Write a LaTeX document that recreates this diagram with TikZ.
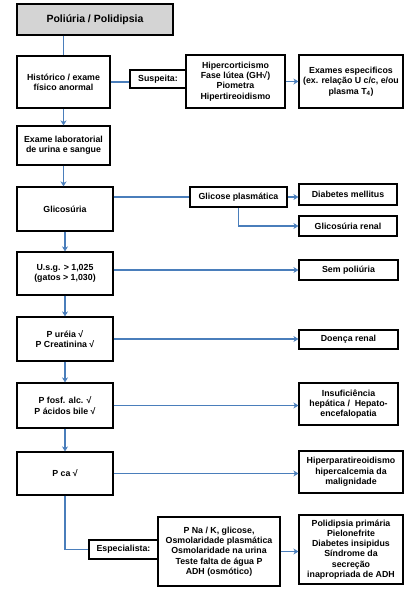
\documentclass[tikz,border=0pt]{standalone}
\usepackage{fontspec}
\setmainfont{Liberation Sans}
\usetikzlibrary{arrows.meta,calc}
\definecolor{arrblue}{RGB}{74,126,187}
\definecolor{topgray}{RGB}{212,212,212}
\begin{document}
\begin{tikzpicture}[x=1bp,y=-1bp,
  box/.style={draw=black,line width=1.2bp,align=center,inner sep=0pt,
    font=\fontsize{8.8bp}{10.3bp}\selectfont\bfseries},
  conn/.style={draw=arrblue,line width=1.3bp},
  arr/.style={conn,-{Stealth[length=5bp,width=6bp,inset=1.5bp]}}]
\useasboundingbox (0,0) rectangle (408,594);
% nodes
\node[box,fill=topgray,minimum width=156bp,minimum height=31bp,font=\fontsize{10.5bp}{12bp}\selectfont\bfseries] (top) at (95,19.5) {Poliúria / Polidipsia};
\node[box,minimum width=93bp,minimum height=52bp] (hist) at (63.5,82) {Histórico / exame\\físico anormal};
\node[box,minimum width=56bp,minimum height=18bp] (susp) at (158,79) {Suspeita:};
\node[box,minimum width=99bp,minimum height=53bp] (hiper) at (235.5,81.5) {Hipercorticismo\\Fase lútea (GH√)\\Piometra\\Hipertireoidismo};
\node[box,minimum width=104bp,minimum height=53bp] (exames) at (351,81.5) {Exames especificos\\(ex. relação U c/c, e/ou\\plasma T\textsubscript{4})};
\node[box,minimum width=93bp,minimum height=39bp] (examelab) at (63.5,145.5) {Exame laboratorial\\de urina e sangue};
\node[box,minimum width=96bp,minimum height=44bp] (glic) at (65,209) {Glicosúria};
\node[box,minimum width=97bp,minimum height=20bp] (glicpl) at (238.5,197) {Glicose plasmática};
\node[box,minimum width=98bp,minimum height=21bp] (diab) at (348,194.5) {Diabetes mellitus};
\node[box,minimum width=98bp,minimum height=20bp] (glicren) at (348,226) {Glicosúria renal};
\node[box,minimum width=96bp,minimum height=43bp] (usg) at (65,273.5) {U.s.g. > 1,025\\(gatos > 1,030)};
\node[box,minimum width=99bp,minimum height=20bp] (sem) at (348.5,270) {Sem poliúria};
\node[box,minimum width=96bp,minimum height=44bp] (pureia) at (65,339) {P uréia √\\P Creatinina √};
\node[box,minimum width=99bp,minimum height=19bp] (doenca) at (348.5,339.5) {Doença renal};
\node[box,minimum width=96bp,minimum height=45bp] (pfosf) at (65,405.5) {P fosf. alc. √\\P ácidos bile √};
\node[box,minimum width=99bp,minimum height=42bp] (insuf) at (348.5,404) {Insuficiência\\hepática /~ Hepato-\\encefalopatia};
\node[box,minimum width=96bp,minimum height=43bp] (pca) at (65,473.5) {P ca √};
\node[box,minimum width=104bp,minimum height=42bp] (hpara) at (351,472) {Hiperparatireoidismo\\hipercalcemia da\\malignidade};
\node[box,minimum width=69bp,minimum height=19bp] (espec) at (123.5,549.5) {Especialista:};
\node[box,minimum width=122bp,minimum height=69bp] (pna) at (219,551.5) {P Na / K, glicose,\\Osmolaridade plasmática\\Osmolaridade na urina\\Teste falta de água P\\ADH (osmótico)};
\node[box,minimum width=104bp,minimum height=69bp] (polid) at (351,549.5) {Polidipsia primária\\Pielonefrite\\Diabetes insipidus\\Síndrome da\\secreção\\inapropriada de ADH};
% connectors
\draw[conn] (hist.north |- top.south) -- (hist.north);
\draw[conn] (hist.east) -- (hist.east -| susp.west);
\draw[arr] (hiper.east) -- (hiper.east -| exames.west);
\draw[arr] (hist.south) -- (hist.south |- examelab.north);
\draw[arr] (examelab.south) -- (examelab.south |- glic.north);
\draw[conn] (glicpl.west -| glic.east) -- (glicpl.west);
\draw[arr] (glicpl.east) -- (glicpl.east -| diab.west);
\draw[arr] (glicpl.south) |- (glicren.west);
\draw[arr] (glic.south) -- (usg.north);
\draw[arr] (usg.east |- sem.west) -- (sem.west);
\draw[arr] (usg.south) -- (pureia.north);
\draw[arr] (pureia.east) -- (pureia.east -| doenca.west);
\draw[arr] (pureia.south) -- (pfosf.north);
\draw[arr] (pfosf.east) -- (pfosf.east -| insuf.west);
\draw[arr] (pfosf.south) -- (pca.north);
\draw[arr] (pca.east) -- (pca.east -| hpara.west);
\draw[conn] (pca.south) |- (espec.west);
\draw[arr] (pna.east) -- (pna.east -| polid.west);
\end{tikzpicture}
\end{document}
